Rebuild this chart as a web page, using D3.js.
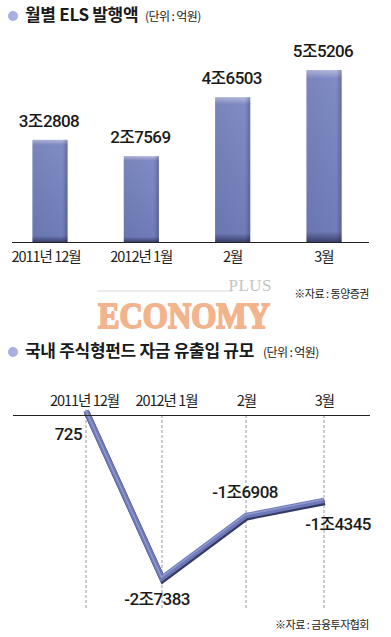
<!DOCTYPE html>
<html><head><meta charset="utf-8">
<script src="https://cdn.jsdelivr.net/npm/d3@7"></script>
<style>
html,body{margin:0;padding:0;background:#fff;}
svg{display:block;}
text{font-family:"Noto Sans CJK KR","Noto Sans",sans-serif;}
text.num{font-family:Roboto,"Noto Sans CJK KR",sans-serif;font-weight:500;fill:#1a1a1a;}
text.serif{font-family:"Liberation Serif","DejaVu Serif",serif;}
</style></head>
<body>
<svg id="c" width="391" height="637"></svg>
<script>
// ---- data ----
const barCategories = ["2011년 12월","2012년 1월","2월","3월"];
const barValues = [32808, 27569, 46503, 55206];
const barLabels = ["3조2808","2조7569","4조6503","5조5206"];

const lineCategories = ["2011년 12월","2012년 1월","2월","3월"];
const lineValues = [725, -27383, -16908, -14345];
const lineLabels = ["725","-2조7383","-1조6908","-1조4345"];

const svg = d3.select("#c");
const defs = svg.append("defs");

// bar gradients
const gv = defs.append("linearGradient").attr("id","gv").attr("x1",0).attr("y1",0).attr("x2",0).attr("y2",1);
gv.append("stop").attr("offset","0").attr("stop-color","#b4bade");
gv.append("stop").attr("offset","0.05").attr("stop-color","#7f8bc4");
gv.append("stop").attr("offset","0.94").attr("stop-color","#6f7cb8");
gv.append("stop").attr("offset","1").attr("stop-color","#3b416e");
const gh = defs.append("linearGradient").attr("id","gh").attr("x1",0).attr("y1",0).attr("x2",1).attr("y2",0);
gh.append("stop").attr("offset","0").attr("stop-color","#000").attr("stop-opacity",0.05);
gh.append("stop").attr("offset","0.85").attr("stop-color","#000").attr("stop-opacity",0);
gh.append("stop").attr("offset","1").attr("stop-color","#000").attr("stop-opacity",0.22);

// ---- titles ----
function title(y, main, unit, unitX){
  svg.append("circle").attr("cx",13).attr("cy",y-5).attr("r",5).attr("fill","#a8aee0");
  svg.append("text").attr("x",25).attr("y",y).attr("font-size",17).attr("font-weight",700)
     .attr("fill","#1a1a1a").attr("letter-spacing",-0.3).text(main);
  svg.append("text").attr("x",unitX).attr("y",y).attr("font-size",12).attr("fill","#1a1a1a")
     .attr("letter-spacing",-0.6).text(unit);
}
title(21, "월별 ELS 발행액", "(단위 : 억원)", 145);
title(357, "국내 주식형펀드 자금 유출입 규모", "(단위 : 억원)", 263);

// ---- bar chart ----
const x1 = d3.scaleBand().domain(barCategories).range([5, 369]).paddingInner(0.615).paddingOuter(0.3);
const base = 242;
const y1 = d3.scaleLinear().domain([0, 55206]).range([base, 70]);

const bars = svg.append("g");
bars.selectAll("rect.b").data(barValues).join("rect").attr("class","b")
  .attr("x",(d,i)=>x1(barCategories[i])).attr("width",x1.bandwidth())
  .attr("y",d=>y1(d)).attr("height",d=>base-y1(d)).attr("fill","url(#gv)");
bars.selectAll("rect.s").data(barValues).join("rect").attr("class","s")
  .attr("x",(d,i)=>x1(barCategories[i])).attr("width",x1.bandwidth())
  .attr("y",d=>y1(d)).attr("height",d=>base-y1(d)).attr("fill","url(#gh)");
bars.selectAll("text").data(barLabels).join("text").attr("class","num")
  .attr("x",(d,i)=>x1(barCategories[i])+x1.bandwidth()/2-1)
  .attr("y",(d,i)=>y1(barValues[i])-13).attr("text-anchor","middle")
  .attr("font-size",17).attr("letter-spacing",-0.6).text(d=>d);

const ax1 = svg.append("g").attr("transform",`translate(0,${base})`)
  .call(d3.axisBottom(x1).tickSize(0).tickPadding(10));
ax1.select(".domain").attr("d","M12,0.5H369").attr("stroke","#222").attr("stroke-width",1.2);
ax1.selectAll("text").attr("font-size",14.5).attr("fill","#222").attr("letter-spacing",-1)
  .style("font-family","'Noto Sans CJK KR',sans-serif").attr("font-weight",400)
  .attr("dx",(d,i)=>i===0?-4:0);

svg.append("text").attr("x",369).attr("y",298).attr("text-anchor","end").attr("font-size",11)
  .attr("fill","#222").attr("letter-spacing",-0.5).text("※자료 : 동양증권");

// ---- watermark ----
svg.append("line").attr("x1",97).attr("x2",232).attr("y1",291).attr("y2",291).attr("stroke","#d8d8d8").attr("stroke-width",1);
svg.append("text").attr("class","serif").attr("x",272).attr("y",291).attr("text-anchor","end")
  .attr("font-size",17).attr("fill","#c4c4c4").attr("letter-spacing",0.5).text("PLUS");
svg.append("text").attr("class","serif").attr("x",98).attr("y",328)
  .style("font-weight",700).attr("font-size",35).attr("fill","#f1b48c")
  .attr("stroke","#f1b48c").attr("stroke-width",1.8).attr("stroke-linejoin","round")
  .attr("textLength",172).attr("lengthAdjust","spacingAndGlyphs").text("ECONOMY");

// ---- line chart ----
const xPos = d3.scaleOrdinal().domain(lineCategories).range([86,162,246,324]);
const zero = 415;
const y2 = d3.scaleLinear().domain([0, -27383]).range([zero, 578]);

const g2 = svg.append("g");
g2.selectAll("line.grid").data(lineCategories).join("line").attr("class","grid")
  .attr("x1",d=>xPos(d)).attr("x2",d=>xPos(d)).attr("y1",zero).attr("y2",608)
  .attr("stroke","#999").attr("stroke-width",1).attr("stroke-dasharray","3,2");

const ax2 = svg.append("g").attr("transform",`translate(0,${zero})`)
  .call(d3.axisTop(xPos).tickSize(0).tickPadding(9));
ax2.select(".domain").remove();
svg.append("line").attr("x1",13).attr("x2",370).attr("y1",zero+0.5).attr("y2",zero+0.5).attr("stroke","#222").attr("stroke-width",1.2);
ax2.selectAll("text").attr("font-size",14.5).attr("fill","#222").attr("letter-spacing",-1)
  .style("font-family","'Noto Sans CJK KR',sans-serif").attr("font-weight",400)
  .attr("dx",(d,i)=>i===0?-2:(i===1?4:0));

const lineGen = d3.line().x((d,i)=>xPos(lineCategories[i])).y(d=>y2(d));
g2.append("path").datum(lineValues).attr("d",lineGen).attr("transform","translate(0.8,1.8)")
  .attr("fill","none").attr("stroke","#353b66").attr("stroke-width",6).attr("stroke-linejoin","miter");
g2.append("path").datum(lineValues).attr("d",lineGen)
  .attr("fill","none").attr("stroke","#6d79b6").attr("stroke-width",5.5).attr("stroke-linejoin","miter");
g2.append("path").datum(lineValues).attr("d",lineGen).attr("transform","translate(-0.6,-1)")
  .attr("fill","none").attr("stroke","#9aa3d6").attr("stroke-width",1.5).attr("stroke-linejoin","miter").attr("opacity",0.8);

const lblPos = [
  {dx:-4, dy:29, anchor:"end"},
  {dx:-5, dy:27, anchor:"middle"},
  {dx:-1, dy:-18, anchor:"middle"},
  {dx:14, dy:30, anchor:"middle"}
];
g2.selectAll("text.num").data(lineLabels).join("text").attr("class","num")
  .attr("x",(d,i)=>xPos(lineCategories[i])+lblPos[i].dx)
  .attr("y",(d,i)=>y2(lineValues[i])+lblPos[i].dy)
  .attr("text-anchor",(d,i)=>lblPos[i].anchor)
  .attr("font-size",17).attr("letter-spacing",-0.6).text(d=>d);

svg.append("text").attr("x",369).attr("y",629).attr("text-anchor","end").attr("font-size",11)
  .attr("fill","#222").attr("letter-spacing",-0.5).text("※자료 : 금융투자협회");
</script>
</body></html>
